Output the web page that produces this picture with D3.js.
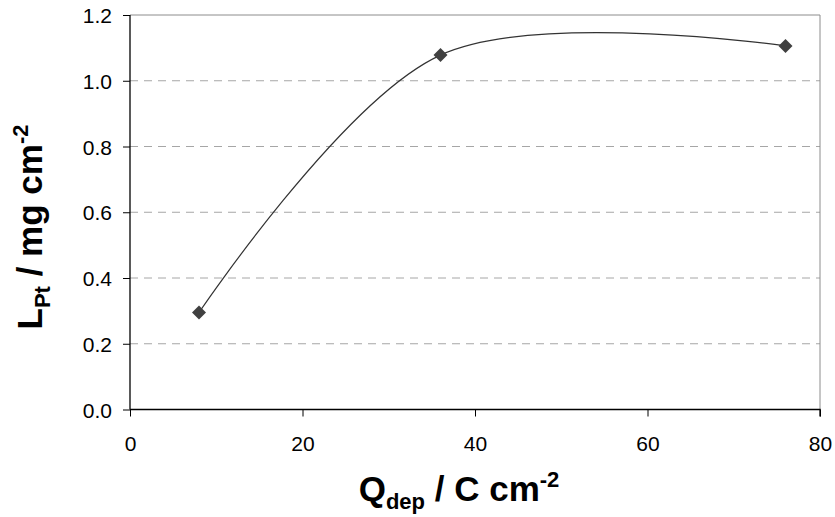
<!DOCTYPE html>
<html><head><meta charset="utf-8">
<script src="https://cdn.jsdelivr.net/npm/d3@7/dist/d3.min.js"></script>
<style>body{margin:0;background:#fff}</style>
</head><body>
<svg id="c" width="835" height="517"></svg>
<script>
const qdep = [8, 36, 76];
const lpt = [0.295, 1.078, 1.106];
const xTicks = [0, 20, 40, 60, 80];
const yTicks = [0.0, 0.2, 0.4, 0.6, 0.8, 1.0, 1.2];

const svg = d3.select("#c");
const L = 130, R = 820, T = 15, B = 409.5;
const x = d3.scaleLinear().domain([0, 80]).range([L, R]);
const y = d3.scaleLinear().domain([0, 1.2]).range([B, T]);
const font = "Liberation Sans, Arial, sans-serif";

// gridlines
svg.append("g").selectAll("line").data(yTicks.filter(d => d > 0 && d < 1.2)).join("line")
  .attr("x1", L).attr("x2", R).attr("y1", d => y(d)).attr("y2", d => y(d))
  .attr("stroke", "#a6a6a6").attr("stroke-width", 1).attr("stroke-dasharray", "8,6");
// top and right border
svg.append("path").attr("d", `M${L},${T}H${R}V${B}`).attr("fill", "none").attr("stroke", "#8c8c8c").attr("stroke-width", 1);

// axes
const xa = svg.append("g").attr("transform", `translate(0,${B})`)
  .call(d3.axisBottom(x).tickValues(xTicks).tickSize(7).tickFormat(d3.format("d")));
const ya = svg.append("g").attr("transform", `translate(${L},0)`)
  .call(d3.axisLeft(y).tickValues(yTicks).tickSize(7).tickFormat(d3.format(".1f")));
[xa, ya].forEach(a => {
  a.select(".domain").attr("stroke", "#000").attr("stroke-width", 1.3);
  a.selectAll(".tick line").attr("stroke", "#000");
  a.selectAll("text").attr("font-family", font).attr("font-size", 21).attr("fill", "#000");
});
xa.selectAll("text").attr("y", 41.5).attr("dy", 0);
ya.selectAll("text").attr("x", -18).attr("dy", "0.36em");
ya.select(".domain").attr("d", `M0,${T}V${B}`);
xa.select(".domain").attr("d", `M${L},0H${R}V7`);

// curve
const pts = qdep.map((d, i) => [x(d), y(lpt[i])]);
svg.append("path").attr("d", d3.line().curve(d3.curveCardinal.tension(0))(pts))
  .attr("fill", "none").attr("stroke", "#333").attr("stroke-width", 1.2);

// markers
svg.append("g").selectAll("path").data(pts).join("path")
  .attr("transform", d => `translate(${d[0]},${d[1]})`)
  .attr("d", "M0,-7L7,0L0,7L-7,0Z").attr("fill", "#404040");

// axis titles
const xt = svg.append("text").attr("x", 459).attr("y", 501).attr("text-anchor", "middle")
  .attr("font-family", font).attr("font-weight", "bold").attr("font-size", 35);
xt.append("tspan").text("Q");
xt.append("tspan").text("dep").attr("font-size", 22).attr("dy", 8);
xt.append("tspan").text(" / C cm").attr("dy", -8);
xt.append("tspan").text("-2").attr("font-size", 22).attr("dy", -14);

const yt = svg.append("text").attr("transform", "translate(42,227) rotate(-90)").attr("text-anchor", "middle")
  .attr("font-family", font).attr("font-weight", "bold").attr("font-size", 35);
yt.append("tspan").text("L");
yt.append("tspan").text("Pt").attr("font-size", 22).attr("dy", 8);
yt.append("tspan").text(" / mg cm").attr("dy", -8);
yt.append("tspan").text("-2").attr("font-size", 22).attr("dy", -14);
</script>
</body></html>
